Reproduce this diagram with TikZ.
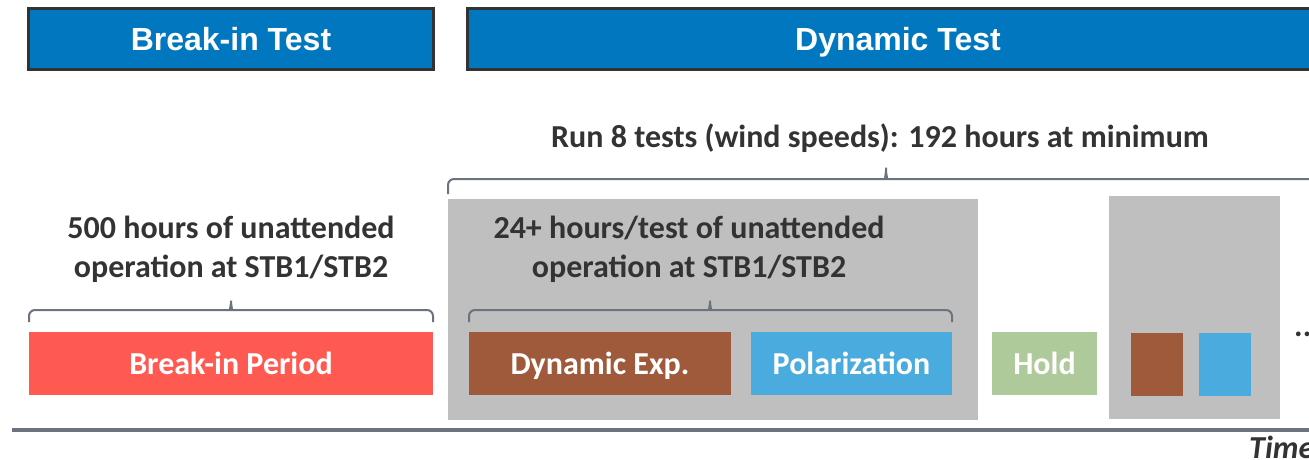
\documentclass[tikz,border=0pt]{standalone}
\usepackage{fontspec}
\setmainfont{Carlito}
\newfontfamily\headfont{Liberation Sans}
\usetikzlibrary{calc}

\definecolor{headblue}{HTML}{0077BE}
\definecolor{headedge}{HTML}{333333}
\definecolor{inkgray}{HTML}{333333}
\definecolor{bracegray}{HTML}{6B7280}
\definecolor{panelgray}{HTML}{BFBFBF}
\definecolor{breakred}{HTML}{FF5A52}
\definecolor{expbrown}{HTML}{9E5A3A}
\definecolor{polblue}{HTML}{4AACDE}
\definecolor{holdgreen}{HTML}{AEC99A}

\tikzset{
  header/.style={draw=headedge, line width=3pt, fill=headblue, text=white,
    inner sep=0pt, outer sep=0pt, text height=23pt, text depth=0pt,
    minimum height=61pt,
    font=\headfont\bfseries\fontsize{32}{38}\selectfont},
  phase/.style={inner sep=0pt, outer sep=0pt, text=white,
    text height=21pt, text depth=0pt, minimum height=63pt,
    font=\bfseries\fontsize{32}{38}\selectfont},
  panel/.style={fill=panelgray, draw=none},
  note/.style={text=inkgray, inner sep=0pt, anchor=base,
    font=\bfseries\fontsize{32}{38}\selectfont},
  curly/.style={draw=bracegray, line width=2pt, rounded corners=6pt},
  axis/.style={draw=bracegray, line width=4pt}
}

\begin{document}
\begin{tikzpicture}[x=1pt, y=-1pt]
\clip (0,0) rectangle (1309,460);

% phase headers
\node[header, minimum width=405pt] (hbreak) at (231,39) {Break-in Test};
\node[header, minimum width=862pt] (hdyn) at (898,39) {Dynamic Test};

% overall test campaign
\node[note] (run) at (880,147) {Run 8 tests (wind speeds): 192 hours at minimum};
\draw[curly] (448,194) -- (448,179) -- (880,179)
  .. controls (884,179) and (886,175) .. (886,164)
  .. controls (886,175) and (888,179) .. (892,179) -- (1320,179);

% grey panels for each wind-speed test
\path[panel] (448,199) rectangle (978,420);
\path[panel] (1109,196) rectangle (1280,419);

% break-in block
\node[note] (hrs1a) at (231,238) {500 hours of unattended};
\node[note] (hrs1b) at (231,277) {operation at STB1/STB2};
\draw[curly] (29,322) -- (29,310) -- (225,310)
  .. controls (229,310) and (231,306) .. (231,297)
  .. controls (231,306) and (233,310) .. (237,310) -- (433,310) -- (433,322);
\node[phase, fill=breakred, minimum width=404pt] (bip) at (231,363.5) {Break-in Period};

% first dynamic test
\node[note] (hrs2a) at (689,238) {24+ hours/test of unattended};
\node[note] (hrs2b) at (689,277) {operation at STB1/STB2};
\draw[curly] (469,322) -- (469,310) -- (704,310)
  .. controls (708,310) and (710,306) .. (710,297)
  .. controls (710,306) and (712,310) .. (716,310) -- (952,310) -- (952,322);
\node[phase, fill=expbrown, minimum width=262pt] (dexp) at (600,363.5) {Dynamic Exp.};
\node[phase, fill=polblue, minimum width=201pt] (pol) at (851.5,363.5) {Polarization};
\node[phase, fill=holdgreen, minimum width=105pt] (hold) at (1044.5,363.5) {Hold};

% next test
\node[phase, fill=expbrown, minimum width=52pt] (dexp2) at (1157,364.5) {};
\node[phase, fill=polblue, minimum width=52pt] (pol2) at (1225,364.5) {};
\node[note, anchor=base west] (more) at (1294,336) {...};

% time axis
\coordinate (t0) at (12,430);
\coordinate (t1) at (1320,430);
\draw[axis] (t0) -- (t1);
\node[note, anchor=base west, font=\bfseries\itshape\fontsize{32}{38}\selectfont] (time) at (1249,458) {Time};
\end{tikzpicture}
\end{document}
